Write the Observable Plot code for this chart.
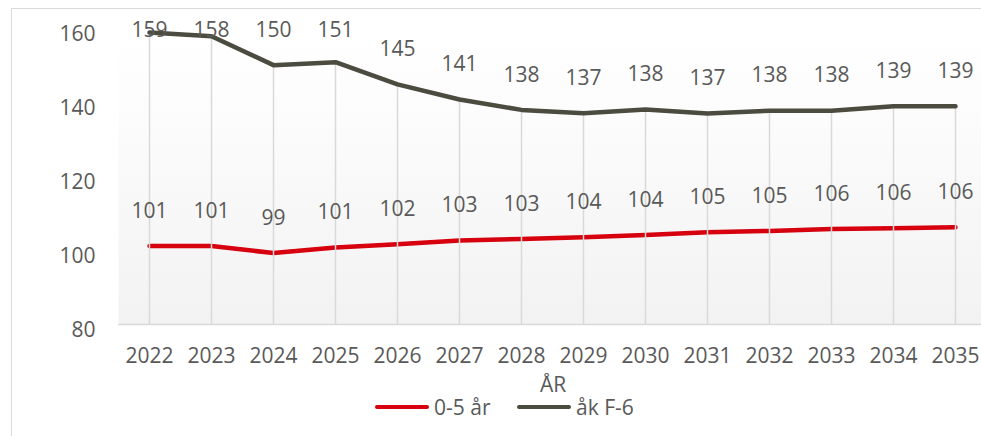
<!DOCTYPE html>
<html>
<head>
<meta charset="utf-8">
<script src="https://cdn.jsdelivr.net/npm/d3@7"></script>
<script src="https://cdn.jsdelivr.net/npm/@observablehq/plot@0.6"></script>
<style>
  html, body { margin: 0; padding: 0; background: #fff; }
  #wrap { position: relative; width: 981px; height: 436px; overflow: hidden; font-family: "Open Sans", sans-serif; }
  #border { position: absolute; left: 11px; top: 8px; width: 1100px; height: 600px; border: 1.5px solid #d9d9d9; pointer-events: none; z-index: 2; }
  #legend { position: absolute; left: 0; top: 393px; width: 981px; height: 28px; color: #595959; font-size: 21px; }
  .item { position: absolute; top: 0; display: flex; align-items: center; height: 28px; }
  .sw { display: inline-block; width: 54px; height: 4.5px; border-radius: 3px; margin-right: 5px; }
</style>
</head>
<body>
<div id="wrap">
  <div id="chart"></div>
  <div id="legend"></div>
  <div id="border"></div>
</div>
<script>
const years = [2022, 2023, 2024, 2025, 2026, 2027, 2028, 2029, 2030, 2031, 2032, 2033, 2034, 2035];
const barn = [101.2, 101.2, 99.3, 100.8, 101.7, 102.7, 103.1, 103.6, 104.2, 104.9, 105.3, 105.8, 106.0, 106.3];
const skola = [158.9, 157.9, 150.1, 150.9, 144.9, 140.8, 138.0, 137.1, 138.1, 137.0, 137.8, 137.8, 139.0, 139.0];
const seriesNames = ["0-5 år", "åk F-6"];
const seriesColors = ["#d6000e", "#4b4b40"];
const yTicks = [80, 100, 120, 140, 160];
const axisTitle = "ÅR";

const red = years.map((y, i) => ({year: y, value: barn[i], serie: seriesNames[0]}));
const gray = years.map((y, i) => ({year: y, value: skola[i], serie: seriesNames[1]}));
const textColor = "#595959";

const H = 395, MT = 28, MB = 71;
const yMin = 80, yMax = 160;
const pxPerUnit = (H - MT - MB) / (yMax - yMin);
// data labels sit 35px above the point, but never above the plot's top edge (like Excel)
const labelY = d => Math.min(d.value + 35 / pxPerUnit, yMax - 2 / pxPerUnit);
const labelText = d => String(Math.round(d.value));

const chart = Plot.plot({
  width: 981,
  height: H,
  marginLeft: 118,
  marginRight: 0,
  marginTop: MT,
  marginBottom: MB,
  style: {fontFamily: "'Open Sans', sans-serif", fontSize: "21px", color: textColor, background: "transparent", overflow: "visible"},
  x: {type: "point", domain: years, range: [149, 955], padding: 0},
  y: {domain: [yMin, yMax]},
  color: {domain: seriesNames, range: seriesColors},
  marks: [
    Plot.frame({fill: "url(#bg)", stroke: null}),
    Plot.ruleY([yMin], {stroke: "#d9d9d9", strokeWidth: 1.5}),
    Plot.lineY(red, {x: "year", y: "value", stroke: "serie", strokeWidth: 4.5}),
    Plot.ruleX(gray, {x: "year", y1: yMin, y2: "value", stroke: "#d9d9d9", strokeWidth: 1.5}),
    Plot.lineY(gray, {x: "year", y: "value", stroke: "serie", strokeWidth: 4.5}),
    Plot.text(red, {x: "year", y: labelY, text: labelText, fill: textColor, fontSize: 21}),
    Plot.text(gray, {x: "year", y: labelY, text: labelText, fill: textColor, fontSize: 21}),
    Plot.axisY(yTicks, {tickSize: 0, tickPadding: 23, fill: textColor, fontSize: 21, dy: 6, label: null}),
    Plot.axisX(years, {tickSize: 0, tickPadding: 24, fill: textColor, fontSize: 21, label: null, tickFormat: d => String(d)}),
    Plot.text([axisTitle], {frameAnchor: "bottom", dy: 67, dx: 3, fill: textColor, fontSize: 21})
  ]
});

chart.insertAdjacentHTML("afterbegin",
  '<defs><linearGradient id="bg" x1="0" y1="0" x2="0" y2="1">' +
  '<stop offset="0" stop-color="#ffffff"/><stop offset="0.3" stop-color="#fcfcfc"/><stop offset="1" stop-color="#f2f2f2"/>' +
  '</linearGradient></defs>');
document.getElementById("chart").appendChild(chart);

const legend = document.getElementById("legend");
const legendLeft = [375, 517];
seriesNames.forEach((name, i) => {
  const item = document.createElement("div");
  item.className = "item";
  item.style.left = legendLeft[i] + "px";
  const sw = document.createElement("span");
  sw.className = "sw";
  sw.style.background = seriesColors[i];
  const t = document.createElement("span");
  t.textContent = name;
  item.appendChild(sw);
  item.appendChild(t);
  legend.appendChild(item);
});
</script>
</body>
</html>
